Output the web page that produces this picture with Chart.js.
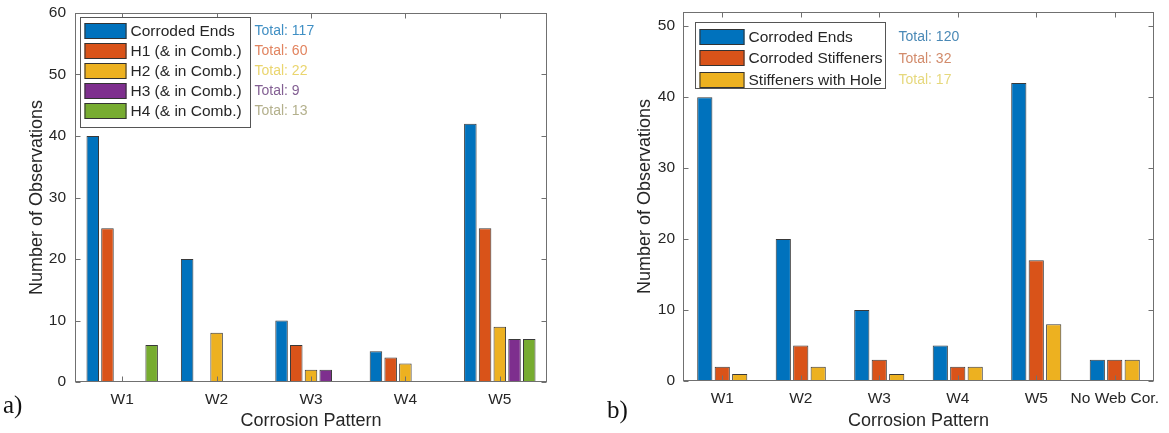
<!DOCTYPE html>
<html>
<head>
<meta charset="utf-8">
<title>Corrosion Pattern Observations</title>
<script src="https://cdn.jsdelivr.net/npm/chart.js@4/dist/chart.umd.min.js"></script>
<style>
  html, body { margin: 0; padding: 0; background: #ffffff; }
  body { width: 1169px; height: 433px; position: relative; overflow: hidden; }
  canvas { position: absolute; top: 0; }
  #chartA { left: 0; }
  #chartB { left: 600px; }
</style>
</head>
<body>
<canvas id="chartA" width="560" height="433"></canvas>
<canvas id="chartB" width="569" height="433"></canvas>
<script>
// ---- Panel a): corrosion pattern vs. hole types ----
const categoriesA = ['W1', 'W2', 'W3', 'W4', 'W5'];
const corrodedEndsA = [40, 20, 10, 5, 42];
const h1A = [25, 0, 6, 4, 25];
const h2A = [0, 8, 2, 3, 9];
const h3A = [0, 0, 2, 0, 7];
const h4A = [6, 0, 0, 0, 7];
const yTicksA = [0, 10, 20, 30, 40, 50, 60];

// ---- Panel b): corrosion pattern vs. stiffener condition ----
const categoriesB = ['W1', 'W2', 'W3', 'W4', 'W5', 'No Web Cor.'];
const corrodedEndsB = [40, 20, 10, 5, 42, 3];
const corrodedStiffenersB = [2, 5, 3, 2, 17, 3];
const stiffenersWithHoleB = [1, 2, 1, 2, 8, 3];
const yTicksB = [0, 10, 20, 30, 40, 50];

// MATLAB-style palette
const C_BLUE = '#0072BD', C_ORANGE = '#D95319', C_YELLOW = '#EDB120',
      C_PURPLE = '#7E2F8E', C_GREEN = '#77AC30';

const SANS = "'Liberation Sans', Arial, Helvetica, sans-serif";
const TEXT = '#262626';
const FRAME = '#707070';

const sum = arr => arr.reduce((s, v) => s + v, 0);

// Box, inward tick marks, in-axes legend with totals, panel letter
function makeFramePlugin(cfg) {
  return {
    id: 'frame',
    afterDatasetsDraw(chart) {
      const { ctx, chartArea: a, scales: { x, y } } = chart;
      ctx.save();
      ctx.strokeStyle = FRAME;
      ctx.lineWidth = 1;
      const L = Math.round(a.left) + 0.5, R = Math.round(a.right) - 0.5;
      const T = Math.round(a.top) + 0.5, B = Math.round(a.bottom) - 0.5;
      ctx.strokeRect(L, T, R - L, B - T);
      const tl = 5;
      ctx.beginPath();
      cfg.yTicks.forEach(v => {
        const py = Math.round(y.getPixelForValue(v)) + 0.5;
        ctx.moveTo(L, py); ctx.lineTo(L + tl, py);
        ctx.moveTo(R, py); ctx.lineTo(R - tl, py);
      });
      chart.data.labels.forEach((_, i) => {
        const px = Math.round(x.getPixelForValue(i)) + 0.5;
        ctx.moveTo(px, B); ctx.lineTo(px, B - tl);
        ctx.moveTo(px, T); ctx.lineTo(px, T + tl);
      });
      ctx.stroke();

      // legend
      const lg = cfg.legend;
      const bx = Math.round(a.left) + lg.dx + 0.5, by = Math.round(a.top) + lg.dy + 0.5;
      ctx.fillStyle = '#ffffff';
      ctx.fillRect(bx, by, lg.w, lg.h);
      ctx.strokeStyle = '#555555';
      ctx.strokeRect(bx, by, lg.w, lg.h);
      ctx.font = '15.5px ' + SANS;
      ctx.textBaseline = 'middle';
      chart.data.datasets.forEach((ds, i) => {
        const cy = by + lg.first + i * lg.pitch;
        ctx.fillStyle = ds.backgroundColor;
        ctx.fillRect(bx + 4, Math.round(cy - lg.sh / 2), lg.sw, lg.sh);
        ctx.strokeStyle = '#333333';
        ctx.strokeRect(bx + 4 + 0.5, Math.round(cy - lg.sh / 2) + 0.5, lg.sw - 1, lg.sh - 1);
        ctx.fillStyle = TEXT;
        ctx.textAlign = 'left';
        ctx.fillText(ds.label, bx + lg.sw + 8, cy + 1);
        ctx.fillStyle = cfg.totalColors[i];
        ctx.font = '14px ' + SANS;
        ctx.fillText('Total: ' + sum(ds.data), bx + lg.w + lg.totalGap, cy + 1);
        ctx.font = '15.5px ' + SANS;
      });

      // panel letter
      ctx.fillStyle = '#111111';
      ctx.font = '25px "Liberation Serif", "Times New Roman", serif';
      ctx.textAlign = 'left';
      ctx.textBaseline = 'alphabetic';
      ctx.fillText(cfg.letter, cfg.letterX, cfg.letterY);
      ctx.restore();
    }
  };
}

function barDataset(label, data, color) {
  return {
    label, data,
    backgroundColor: color,
    borderColor: 'rgba(35,35,35,0.9)',
    borderWidth: 1,
    borderSkipped: false
  };
}

function baseOptions(o) {
  return {
    responsive: false,
    animation: false,
    devicePixelRatio: 1,
    layout: { padding: o.padding },
    plugins: { legend: { display: false }, tooltip: { enabled: false } },
    datasets: { bar: { categoryPercentage: o.catPct, barPercentage: o.barPct } },
    scales: {
      x: {
        type: 'category',
        offset: true,
        grid: { display: false, drawTicks: false },
        border: { display: false },
        ticks: { color: TEXT, font: { family: SANS, size: 15.5 }, padding: 8, maxRotation: 0, autoSkip: false },
        title: { display: true, text: 'Corrosion Pattern', color: TEXT,
                 font: { family: SANS, size: 18 }, padding: { top: 0, bottom: 1 } },
        afterFit: s => { s.height = o.xHeight; s.paddingLeft = 0; s.paddingRight = 0; }
      },
      y: {
        min: 0, max: o.yMax,
        grid: { display: false, drawTicks: false },
        border: { display: false },
        ticks: { color: TEXT, font: { family: SANS, size: 15.5 }, padding: o.yTickPad },
        afterBuildTicks: s => { s.ticks = o.yTicks.map(v => ({ value: v })); },
        title: { display: true, text: 'Number of Observations', color: TEXT,
                 font: { family: SANS, size: 18 }, padding: { top: 0, bottom: 0 } },
        afterFit: s => { s.width = o.yWidth; s.paddingTop = 0; s.paddingBottom = 0; }
      }
    }
  };
}

new Chart(document.getElementById('chartA'), {
  type: 'bar',
  data: {
    labels: categoriesA,
    datasets: [
      barDataset('Corroded Ends', corrodedEndsA, C_BLUE),
      barDataset('H1 (& in Comb.)', h1A, C_ORANGE),
      barDataset('H2 (& in Comb.)', h2A, C_YELLOW),
      barDataset('H3 (& in Comb.)', h3A, C_PURPLE),
      barDataset('H4 (& in Comb.)', h4A, C_GREEN)
    ]
  },
  options: baseOptions({
    padding: { left: 26, right: 13, top: 13, bottom: 0 },
    catPct: 0.78, barPct: 0.85,
    xHeight: 51, yWidth: 49, yTickPad: 9,
    yMax: 60, yTicks: yTicksA
  }),
  plugins: [makeFramePlugin({
    yTicks: yTicksA,
    legend: { dx: 5, dy: 4, w: 170, h: 110, first: 13, pitch: 20, sw: 42, sh: 16, totalGap: 4 },
    totalColors: ['#3f8fc4', '#e2845f', '#ead56e', '#835f93', '#b3b08c'],
    letter: 'a)', letterX: 3, letterY: 413
  })]
});

new Chart(document.getElementById('chartB'), {
  type: 'bar',
  data: {
    labels: categoriesB,
    datasets: [
      barDataset('Corroded Ends', corrodedEndsB, C_BLUE),
      barDataset('Corroded Stiffeners', corrodedStiffenersB, C_ORANGE),
      barDataset('Stiffeners with Hole', stiffenersWithHoleB, C_YELLOW)
    ]
  },
  options: baseOptions({
    padding: { left: 34, right: 15, top: 12, bottom: 0 },
    catPct: 0.667, barPct: 0.87,
    xHeight: 52, yWidth: 49, yTickPad: 8,
    yMax: 52, yTicks: yTicksB
  }),
  plugins: [makeFramePlugin({
    yTicks: yTicksB,
    legend: { dx: 12, dy: 10, w: 190, h: 66, first: 14, pitch: 21.5, sw: 45, sh: 16, totalGap: 13 },
    totalColors: ['#4a89b6', '#d28b6b', '#e6d87c'],
    letter: 'b)', letterX: 7, letterY: 418
  })]
});
</script>
</body>
</html>
